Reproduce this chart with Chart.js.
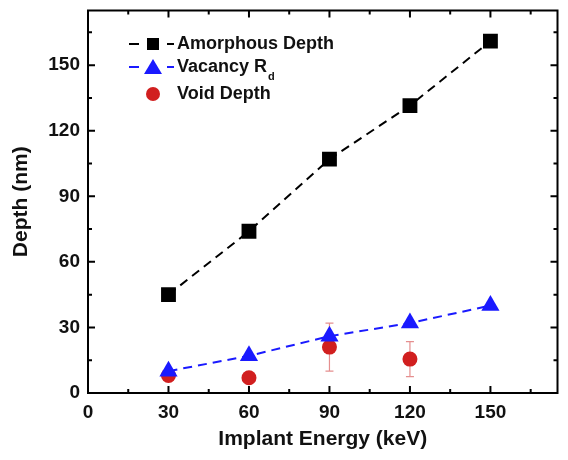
<!DOCTYPE html>
<html>
<head>
<meta charset="utf-8">
<script src="https://cdn.jsdelivr.net/npm/chart.js@4.4.1/dist/chart.umd.min.js"></script>
<style>
    html, body { margin: 0; padding: 0; background: #fff; }
    #wrap { width: 568px; height: 460px; }
</style>
</head>
<body>
<div id="wrap"><canvas id="chart" width="568" height="460"></canvas></div>
<script>
const energies = [30, 60, 90, 120, 150];
const amorphousDepth = [45, 74, 107, 131.5, 161];
const vacancyRd = [10, 17, 26, 32, 40];
const voidEnergies = [30, 60, 90, 120];
const voidDepth = [8, 7, 21, 15.5];
const voidError = [0, 0, 11, 8];
const xTickLabels = [0, 30, 60, 90, 120, 150];
const yTickLabels = [0, 30, 60, 90, 120, 150];

const FONT = "'Liberation Sans', Arial, sans-serif";

function toPoints(xs, ys) {
    return xs.map((x, i) => ({ x: x, y: ys[i] }));
}

// frame + inward ticks on all four sides
const frameTicks = {
    id: 'frameTicks',
    afterDraw(chart) {
        const ctx = chart.ctx;
        const a = chart.chartArea;
        const xs = chart.scales.x;
        const ys = chart.scales.y;
        ctx.save();
        ctx.strokeStyle = '#000';
        ctx.lineWidth = 2;
        ctx.strokeRect(a.left, a.top, a.right - a.left, a.bottom - a.top);
        for (let v = 15; v < xs.max; v += 15) {
            const px = xs.getPixelForValue(v);
            const len = v % 30 === 0 ? 7 : 4;
            ctx.beginPath();
            ctx.moveTo(px, a.bottom); ctx.lineTo(px, a.bottom - len);
            ctx.moveTo(px, a.top); ctx.lineTo(px, a.top + len);
            ctx.stroke();
        }
        for (let v = 15; v < ys.max; v += 15) {
            const py = ys.getPixelForValue(v);
            const len = v % 30 === 0 ? 7 : 4;
            ctx.beginPath();
            ctx.moveTo(a.left, py); ctx.lineTo(a.left + len, py);
            ctx.moveTo(a.right, py); ctx.lineTo(a.right - len, py);
            ctx.stroke();
        }
        ctx.restore();
    }
};

const errorBars = {
    id: 'errorBars',
    beforeDatasetsDraw(chart) {
        const ctx = chart.ctx;
        const xs = chart.scales.x;
        const ys = chart.scales.y;
        ctx.save();
        ctx.strokeStyle = '#e58f8f';
        ctx.lineWidth = 1.2;
        voidEnergies.forEach((e, i) => {
            if (!voidError[i]) return;
            const px = xs.getPixelForValue(e);
            const top = ys.getPixelForValue(voidDepth[i] + voidError[i]);
            const bot = ys.getPixelForValue(voidDepth[i] - voidError[i]);
            ctx.beginPath();
            ctx.moveTo(px, top); ctx.lineTo(px, bot);
            ctx.moveTo(px - 4, top); ctx.lineTo(px + 4, top);
            ctx.moveTo(px - 4, bot); ctx.lineTo(px + 4, bot);
            ctx.stroke();
        });
        ctx.restore();
    }
};

const customLegend = {
    id: 'customLegend',
    afterDraw(chart) {
        const ctx = chart.ctx;
        const items = [
            { text: 'Amorphous Depth', color: '#000', marker: 'rect', line: true, y: 44 },
            { text: 'Vacancy R', sub: 'd', color: '#1a1aff', marker: 'triangle', line: true, y: 67 },
            { text: 'Void Depth', color: '#d11f1f', marker: 'circle', line: false, y: 94 }
        ];
        ctx.save();
        items.forEach(it => {
            const mx = 153;
            if (it.line) {
                ctx.strokeStyle = it.color;
                ctx.lineWidth = 2;
                ctx.beginPath();
                ctx.moveTo(129, it.y); ctx.lineTo(139, it.y);
                ctx.moveTo(167, it.y); ctx.lineTo(174, it.y);
                ctx.stroke();
            }
            ctx.fillStyle = it.color;
            ctx.beginPath();
            if (it.marker === 'rect') {
                ctx.rect(mx - 6, it.y - 6, 12, 12);
            } else if (it.marker === 'triangle') {
                ctx.moveTo(mx, it.y - 8); ctx.lineTo(mx + 9, it.y + 7); ctx.lineTo(mx - 9, it.y + 7); ctx.closePath();
            } else {
                ctx.arc(mx, it.y, 7, 0, Math.PI * 2);
            }
            ctx.fill();
            ctx.fillStyle = '#111';
            ctx.font = 'bold 18px ' + FONT;
            ctx.textBaseline = 'middle';
            ctx.textAlign = 'left';
            ctx.fillText(it.text, 177, it.y);
            if (it.sub) {
                const w = ctx.measureText(it.text).width;
                ctx.font = 'bold 11px ' + FONT;
                ctx.fillText(it.sub, 177 + w + 1, it.y + 10);
            }
        });
        ctx.restore();
    }
};

new Chart(document.getElementById('chart'), {
    type: 'scatter',
    data: {
        datasets: [
            {
                label: 'Void Depth',
                data: toPoints(voidEnergies, voidDepth),
                showLine: false,
                pointStyle: 'circle',
                pointRadius: 7.5,
                backgroundColor: '#d11f1f',
                borderColor: '#d11f1f',
                borderWidth: 0,
                order: 3
            },
            {
                label: 'Vacancy Rd',
                data: toPoints(energies, vacancyRd),
                showLine: true,
                borderDash: [9, 6],
                borderColor: '#1a1aff',
                borderWidth: 2,
                pointStyle: 'triangle',
                pointRadius: 10.5,
                pointBackgroundColor: '#1a1aff',
                pointBorderWidth: 0,
                order: 2
            },
            {
                label: 'Amorphous Depth',
                data: toPoints(energies, amorphousDepth),
                showLine: true,
                borderDash: [9, 6],
                borderColor: '#000',
                borderWidth: 2,
                pointStyle: 'rect',
                pointRadius: 10.5,
                pointBackgroundColor: '#000',
                pointBorderWidth: 0,
                order: 1
            }
        ]
    },
    options: {
        responsive: false,
        animation: false,
        layout: { padding: { top: 7, right: 0, left: 0, bottom: 0 } },
        plugins: { legend: { display: false }, tooltip: { enabled: false } },
        scales: {
            x: {
                type: 'linear',
                min: 0,
                max: 175,
                afterBuildTicks: s => { s.ticks = xTickLabels.map(v => ({ value: v })); },
                afterFit: s => { s.height = 67; s.paddingLeft = 0; s.paddingRight = 0; },
                grid: { display: false, drawTicks: false },
                border: { display: false },
                ticks: { padding: 8, color: '#111', font: { family: FONT, size: 19, weight: 'bold' }, maxRotation: 0 },
                title: { display: true, text: 'Implant Energy (keV)', color: '#111', padding: { top: 0, bottom: 8 }, font: { family: FONT, size: 21, weight: 'bold' } }
            },
            y: {
                type: 'linear',
                min: 0,
                max: 175,
                afterBuildTicks: s => { s.ticks = yTickLabels.map(v => ({ value: v })); },
                afterFit: s => { s.width = 88; s.paddingTop = 0; s.paddingBottom = 0; },
                grid: { display: false, drawTicks: false },
                border: { display: false },
                ticks: { padding: 8, color: '#111', font: { family: FONT, size: 19, weight: 'bold' } },
                title: { display: true, text: 'Depth (nm)', color: '#111', padding: { top: 9, bottom: 0 }, font: { family: FONT, size: 21, weight: 'bold' } }
            }
        }
    },
    plugins: [errorBars, frameTicks, customLegend]
});
</script>
</body>
</html>
